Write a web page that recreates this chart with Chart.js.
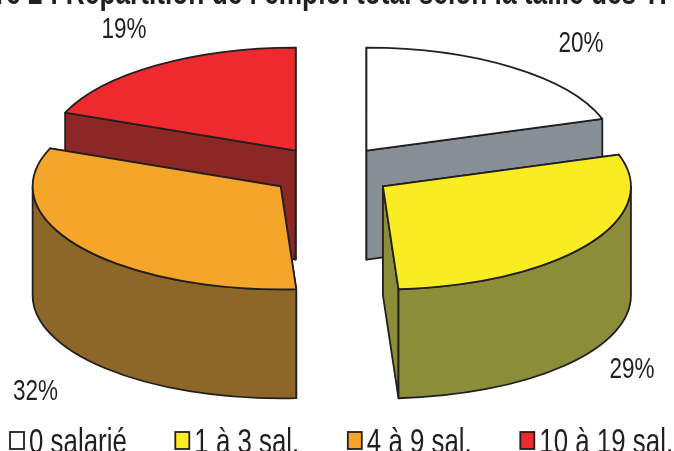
<!DOCTYPE html>
<html><head><meta charset="utf-8">
<style>html,body{margin:0;padding:0;background:#fff;overflow:hidden}</style>
<script src="https://cdn.jsdelivr.net/npm/chart.js@4/dist/chart.umd.min.js"></script>
</head><body><canvas id="c" width="674" height="451" style="display:block"></canvas>
<script>
const categories = ['0 salarié', '1 à 3 sal.', '4 à 9 sal.', '10 à 19 sal.'];
const shares = [20, 29, 32, 19];
const topColors = ['#ffffff', '#f9ec23', '#f5a52a', '#ee2a2e'];
const wallColors = ['#868e96', '#8b8d38', '#8c6727', '#8c2725'];
const titleText = 'Figure 2 : Répartition de l\u2019emploi total selon la taille des TPE';

const INK = '#231f20';
const LINE = 1.8;
const FONT = '"Liberation Sans",Arial,sans-serif';
const NARROW = 0.75;               // the reference text is horizontally condensed
const SQUASH = 103 / 248, DEPTH = 109;
const EXPLODE = [62, 64, 61, 61];
const PAINT_ORDER = [0, 3, 1, 2];
const LABEL_ANCHORS = [[581, 51.5], [632, 377.5], [35.5, 400], [124, 38]];

function condensed(ctx, text, x, y, size, weight, align) {
  ctx.save();
  ctx.translate(x, y);
  ctx.scale(NARROW, 1);
  ctx.font = (weight || 'normal') + ' ' + size + 'px ' + FONT;
  ctx.fillStyle = INK;
  ctx.textAlign = align || 'left';
  ctx.textBaseline = 'alphabetic';
  ctx.fillText(text, 0, 0);
  const w = ctx.measureText(text).width * NARROW;
  ctx.restore();
  return w;
}

class Pie3D extends Chart.controllers.pie {
  draw() {
    const ctx = this.chart.ctx, arcs = this._cachedMeta.data;
    for (const i of PAINT_ORDER) {
      const a = arcs[i], mid = (a.startAngle + a.endAngle) / 2;
      const ox = a.x + Math.cos(mid) * EXPLODE[i];
      const oy = a.y + Math.sin(mid) * EXPLODE[i] * SQUASH;
      const R = a.outerRadius, ry = R * SQUASH;
      const px = t => ox + Math.cos(t) * R, py = t => oy + Math.sin(t) * ry;
      ctx.save();
      ctx.lineWidth = LINE; ctx.lineJoin = 'round'; ctx.strokeStyle = INK; ctx.fillStyle = wallColors[i];
      for (const t of [a.startAngle, a.endAngle]) {
        ctx.beginPath();
        ctx.moveTo(ox, oy); ctx.lineTo(px(t), py(t));
        ctx.lineTo(px(t), py(t) + DEPTH); ctx.lineTo(ox, oy + DEPTH);
        ctx.closePath(); ctx.fill(); ctx.stroke();
      }
      const s = Math.max(a.startAngle, 0), e = Math.min(a.endAngle, Math.PI);
      if (a.startAngle < Math.PI && e > s) {
        ctx.beginPath();
        ctx.ellipse(ox, oy, R, ry, 0, s, e);
        ctx.ellipse(ox, oy + DEPTH, R, ry, 0, e, s, true);
        ctx.closePath(); ctx.fill(); ctx.stroke();
      }
      ctx.restore();
      // top face: the library's own arc, squashed into the pie plane
      ctx.save();
      ctx.translate(ox, oy); ctx.scale(1, SQUASH); ctx.translate(-a.x, -a.y);
      a.draw(ctx, this.chart.chartArea);
      ctx.restore();
      ctx.save();
      ctx.lineWidth = LINE; ctx.lineJoin = 'round'; ctx.strokeStyle = INK;
      ctx.beginPath();
      ctx.moveTo(ox, oy);
      ctx.ellipse(ox, oy, R, ry, 0, a.startAngle, a.endAngle);
      ctx.closePath(); ctx.stroke();
      ctx.restore();
    }
  }
}
Pie3D.id = 'pie3d';
Pie3D.defaults = Chart.controllers.pie.defaults;
Pie3D.overrides = Chart.controllers.pie.overrides;
Chart.register(Pie3D);

const annotations = {
  id: 'annotations',
  afterDatasetsDraw(chart) {
    const ctx = chart.ctx;
    condensed(ctx, titleText, -59.6, 4, 35, 'bold');
    shares.forEach((v, i) => condensed(ctx, v + '%', LABEL_ANCHORS[i][0], LABEL_ANCHORS[i][1], 30, 'normal', 'center'));
    let x = 10;
    categories.forEach((t, i) => {
      ctx.save();
      ctx.fillStyle = topColors[i]; ctx.strokeStyle = INK; ctx.lineWidth = LINE;
      ctx.fillRect(x, 432, 14, 17); ctx.strokeRect(x, 432, 14, 17);
      ctx.restore();
      const w = condensed(ctx, t, x + 19, 452.5, 34.5);
      x += 19 + w + 48.5;
    });
  }
};

new Chart(document.getElementById('c'), {
  type: 'pie3d',
  data: { labels: categories, datasets: [{ data: shares, backgroundColor: topColors, borderWidth: 0, clip: false }] },
  plugins: [annotations],
  options: {
    responsive: false, animation: false, radius: 248,
    layout: { padding: { right: 14, bottom: 108 } },
    plugins: { tooltip: { enabled: false }, legend: { display: false }, title: { display: false } }
  }
});
</script></body></html>
